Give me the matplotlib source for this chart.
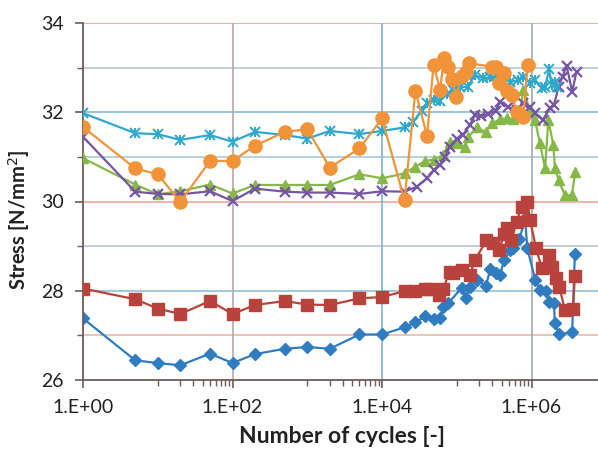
import numpy as np
import matplotlib
matplotlib.use('Agg')
import matplotlib.pyplot as plt
from matplotlib.ticker import FixedLocator, NullFormatter, MultipleLocator

plt.rcParams['font.family'] = ['Lato', 'DejaVu Sans']

# --- data (cycles, stress in N/mm2) ---
blue_n = [1, 5, 10, 20, 50, 100, 200, 500, 1e3, 2e3, 5e3, 1e4, 2e4, 2.8e4, 3.8e4, 4.9e4,
          6e4, 6.6e4, 7.7e4, 1.17e5, 1.33e5, 1.5e5, 1.88e5, 2.45e5, 2.8e5, 3.4e5, 3.8e5,
          4.3e5, 5.2e5, 5.7e5, 6.9e5, 8.2e5, 8.8e5, 1.12e6, 1.3e6, 1.55e6, 1.7e6, 2.0e6,
          2.05e6, 2.35e6, 3.5e6, 3.8e6]
blue_s = [27.38, 26.44, 26.38, 26.33, 26.59, 26.38, 26.58, 26.70, 26.74, 26.70, 27.02, 27.02,
          27.18, 27.29, 27.43, 27.37, 27.38, 27.63, 27.72, 28.07, 27.83, 28.09, 28.25, 28.10,
          28.48, 28.40, 28.35, 28.69, 28.91, 28.95, 29.15, 29.62, 28.95, 28.25, 28.01, 27.99,
          27.75, 27.72, 27.27, 27.02, 27.08, 28.82]

red_n = [1, 5, 10, 20, 50, 100, 200, 500, 1e3, 2e3, 5e3, 1e4, 2e4, 2.8e4, 3.8e4, 4.4e4,
         5.7e4, 6.6e4, 8e4, 9e4, 1.17e5, 1.5e5, 1.75e5, 2.5e5, 3.1e5, 3.7e5, 4.3e5, 4.7e5,
         5.4e5, 6.3e5, 7.4e5, 8.8e5, 9.6e5, 1.15e6, 1.38e6, 1.7e6, 1.87e6, 2.1e6, 2.35e6,
         2.8e6, 3.6e6, 3.8e6]
red_s = [28.05, 27.81, 27.60, 27.48, 27.77, 27.48, 27.68, 27.77, 27.69, 27.68, 27.83, 27.86,
         27.99, 27.99, 28.05, 28.05, 27.90, 28.05, 28.42, 28.40, 28.46, 28.35, 28.69, 29.13,
         29.06, 28.91, 29.28, 29.40, 29.13, 29.55, 29.88, 29.99, 29.58, 28.95, 28.50, 28.80,
         28.54, 28.28, 28.09, 27.57, 27.60, 28.33]

green_n = [1, 5, 10, 20, 50, 100, 200, 500, 1e3, 2e3, 5e3, 1e4, 2e4, 2.8e4, 3.8e4, 4.9e4,
           6.6e4, 8.1e4, 1e5, 1.29e5, 1.43e5, 1.85e5, 2.44e5, 2.94e5, 3.8e5, 4.7e5, 5.7e5,
           7e5, 7.8e5, 9.6e5, 1.11e6, 1.3e6, 1.52e6, 1.68e6, 1.96e6, 2.06e6, 2.3e6, 2.8e6,
           3.45e6, 3.85e6]
green_s = [30.97, 30.38, 30.16, 30.23, 30.38, 30.18, 30.37, 30.37, 30.37, 30.37, 30.61, 30.52,
           30.63, 30.78, 30.91, 30.94, 31.04, 31.34, 31.30, 31.23, 31.44, 31.67, 31.55, 31.75,
           31.84, 31.86, 31.84, 31.99, 32.50, 32.01, 31.83, 31.30, 30.74, 31.83, 31.26, 30.74,
           30.48, 30.14, 30.14, 30.65]

purple_n = [1, 5, 10, 20, 50, 100, 200, 500, 1e3, 2e3, 5e3, 1e4, 2e4, 2.9e4, 4e4, 4.9e4,
            6e4, 7e4, 8.1e4, 1e5, 1.2e5, 1.5e5, 1.75e5, 2.1e5, 2.6e5, 3.3e5, 3.8e5, 4.9e5,
            6.3e5, 7.8e5, 9.6e5, 1.12e6, 1.41e6, 1.78e6, 2.0e6, 2.3e6, 2.6e6, 2.95e6, 3.5e6,
            4.0e6]
purple_s = [31.45, 30.22, 30.17, 30.16, 30.23, 30.01, 30.29, 30.22, 30.20, 30.20, 30.17, 30.23,
            30.22, 30.33, 30.52, 30.70, 30.82, 31.00, 31.23, 31.41, 31.49, 31.71, 31.94, 31.91,
            31.96, 32.03, 32.24, 32.12, 32.05, 32.20, 32.12, 31.98, 31.83, 32.09, 32.16, 32.57,
            32.80, 33.04, 32.46, 32.91]

cyan_n = [1, 5, 10, 20, 50, 100, 200, 500, 1e3, 2e3, 5e3, 1e4, 2e4, 2.6e4, 3.4e4, 4e4,
          5e4, 6e4, 7.3e4, 8.8e4, 1.1e5, 1.4e5, 1.75e5, 2.27e5, 2.8e5, 3.4e5, 4e5, 5.2e5,
          6.7e5, 7.8e5, 9.6e5, 1.11e6, 1.37e6, 1.52e6, 1.72e6, 1.86e6, 2.06e6, 2.2e6]
cyan_s = [31.98, 31.53, 31.51, 31.38, 31.49, 31.34, 31.56, 31.49, 31.41, 31.58, 31.51, 31.58,
          31.66, 31.79, 32.03, 32.21, 32.27, 32.26, 32.40, 32.50, 32.56, 32.57, 32.83, 32.76,
          32.78, 32.81, 32.80, 32.68, 32.72, 32.80, 32.66, 32.72, 32.54, 32.57, 32.96, 32.61,
          32.68, 32.57]

orange_n = [1, 5, 10, 20, 50, 100, 200, 500, 1e3, 2e3, 5e3, 1e4, 2e4, 2.8e4, 4e4, 4.9e4,
            6e4, 6.7e4, 7.7e4, 8.6e4, 9.8e4, 1.16e5, 1.33e5, 1.47e5, 2.94e5, 3.35e5, 3.7e5,
            4.3e5, 4.75e5, 5.5e5, 6.3e5, 7.8e5, 8.9e5]
orange_s = [31.67, 30.74, 30.61, 29.99, 30.91, 30.91, 31.25, 31.56, 31.62, 30.76, 31.19, 31.86,
            30.03, 32.48, 31.47, 33.06, 32.50, 33.21, 33.01, 32.74, 32.35, 32.81, 32.91, 33.10,
            33.02, 33.02, 32.65, 32.87, 32.48, 32.39, 32.01, 31.90, 33.06]

x_ticks = [1, 1e2, 1e4, 1e6]
x_tick_labels = ['1.E+00', '1.E+02', '1.E+04', '1.E+06']

fig = plt.figure(figsize=(5.98, 4.53), dpi=100)
ax = fig.add_axes([83 / 598, 1 - 380 / 453, 523.25 / 598, 357 / 453])

# grid lines (the scan gives them slightly different tints)
h_colors = {27: '#e6b8ac', 28: '#8cc0dc', 29: '#b4c8d8', 30: '#e8ac9c',
            31: '#aacadc', 32: '#88b8d6', 33: '#b4c8d8', 34: '#f0a088'}
for yv, c in h_colors.items():
	ax.axhline(yv, color=c, lw=1.2, zorder=0)
v_colors = {1e2: '#b8a8a8', 1e4: '#80b0cc', 1e6: '#a0a8b0'}
for xv, c in v_colors.items():
	ax.axvline(xv, color=c, lw=1.2, zorder=0)

lw = 1.6
ax.plot(blue_n, blue_s, color='#2f7cc0', lw=lw, marker='D', ms=6.5, zorder=2)
ax.plot(red_n, red_s, color='#b8433c', lw=lw, marker='s', ms=8, zorder=3)
ax.plot(green_n, green_s, color='#86b848', lw=lw, marker='^', ms=7.5, zorder=4)
ax.plot(purple_n, purple_s, color='#7656a2', lw=lw, marker='x', ms=6.5, mew=1.6, zorder=5)
ax.plot(cyan_n, cyan_s, color='#2ea8cc', lw=lw, marker='x', ms=6.5, mew=1.4, zorder=6)
ax.plot(cyan_n, cyan_s, color='#2ea8cc', lw=0, marker='|', ms=7.5, mew=1.4, zorder=6)
ax.plot(orange_n, orange_s, color='#f19439', lw=lw, marker='o', ms=9.5, zorder=7)

ax.set_xscale('log')
ax.set_xlim(1, 1e7)
ax.set_ylim(26, 34)

ax.xaxis.set_major_locator(FixedLocator(x_ticks))
ax.set_xticklabels(x_tick_labels)
minor = []
for d in [1, 3, 5]:
	minor += [k * 10 ** d for k in range(1, 10)]
ax.xaxis.set_minor_locator(FixedLocator(minor))
ax.xaxis.set_minor_formatter(NullFormatter())
ax.yaxis.set_major_locator(MultipleLocator(2))
ax.yaxis.set_minor_locator(MultipleLocator(1))

for s in ['top', 'right']:
	ax.spines[s].set_visible(False)
for s in ['left', 'bottom']:
	ax.spines[s].set_color('#6e5a5a')
	ax.spines[s].set_linewidth(1.3)
ax.tick_params(which='major', length=6, width=1.2, color='#6e5a5a', labelsize=14,
               pad=8, labelcolor='#222222')
ax.tick_params(which='minor', length=4, width=1, color='#6e5a5a')

ax.set_xlabel('Number of cycles [-]', fontsize=16.5, fontweight='bold', color='#222222')
ax.set_ylabel('Stress [N/mm$^2$]', fontsize=14.5, fontweight='bold', color='#222222')
ax.xaxis.set_label_coords(0.495, -0.13)
ax.yaxis.set_label_coords(-0.098, 0.45)

fig.savefig('out.png', dpi=100)
